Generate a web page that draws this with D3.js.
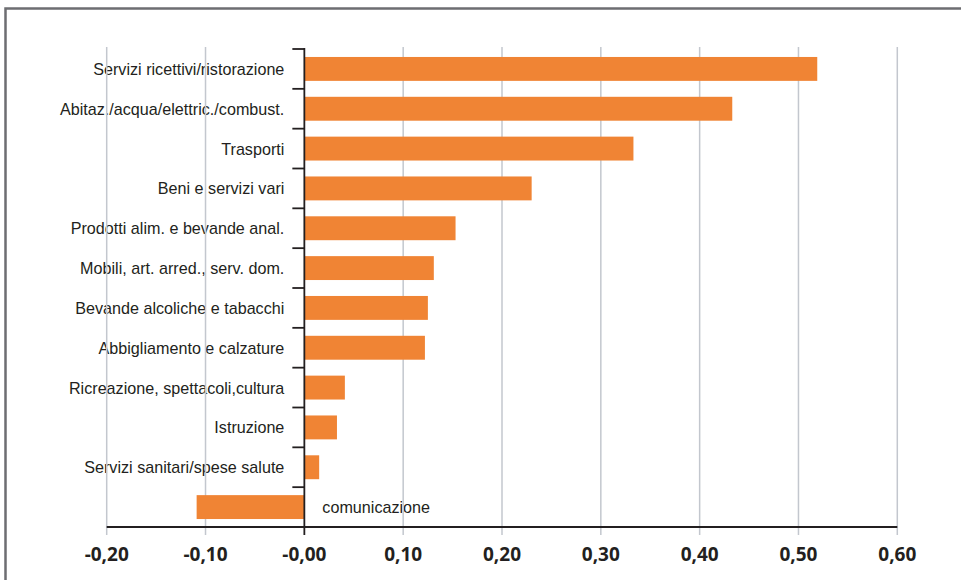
<!DOCTYPE html>
<html>
<head>
<meta charset="utf-8">
<script src="https://cdnjs.cloudflare.com/ajax/libs/d3/7.8.5/d3.min.js"></script>
<style>
  body { margin: 0; background: #fff; }
  .cat { font-family: "Liberation Sans", sans-serif; font-size: 17px; fill: #231f20; }
  .tick-lbl { font-family: "Open Sans", sans-serif; font-weight: 700; font-size: 19px; fill: #231f20; }
</style>
</head>
<body>
<div id="chart"></div>
<script>
// categories top to bottom
var categories = [
  "Servizi ricettivi/ristorazione",
  "Abitaz./acqua/elettric./combust.",
  "Trasporti",
  "Beni e servizi vari",
  "Prodotti alim. e bevande anal.",
  "Mobili, art. arred., serv. dom.",
  "Bevande alcoliche e tabacchi",
  "Abbigliamento e calzature",
  "Ricreazione, spettacoli,cultura",
  "Istruzione",
  "Servizi sanitari/spese salute",
  "comunicazione"
];
var values = [0.519, 0.433, 0.333, 0.230, 0.153, 0.131, 0.125, 0.122, 0.041, 0.033, 0.015, -0.109];
var xTicks = [-0.2, -0.1, 0, 0.1, 0.2, 0.3, 0.4, 0.5, 0.6];
var xTickLabels = ["-0,20", "-0,10", "-0,00", "0,10", "0,20", "0,30", "0,40", "0,50", "0,60"];

var svgWidth = 961;
var svgHeight = 580;

var svg = d3.select("#chart")
  .append("svg")
  .attr("width", svgWidth)
  .attr("height", svgHeight);

// frame (top + left only)
svg.append("path")
  .attr("d", "M5.5,581 L5.5,8.5 L961,8.5")
  .attr("fill", "none")
  .attr("stroke", "#6d6e72")
  .attr("stroke-width", 2.5);

var x = d3.scaleLinear()
  .domain([-0.2, 0.6])
  .range([106.7, 897.3]);

var y = d3.scaleBand()
  .domain(categories)
  .range([49, 527])
  .paddingInner(0.4)
  .paddingOuter(0.2);

var step = y.step();
var x0 = x(0);
var axisY = 527;

// category labels (font squeezed a bit to look like the condensed original)
svg.append("g")
  .selectAll("text")
  .data(categories)
  .enter()
  .append("text")
  .attr("class", "cat")
  .attr("transform", (d, i) => {
    var lx = values[i] < 0 ? x0 + 18 : x0 - 20;
    return `translate(${lx}, ${y(d) + y.bandwidth() / 2}) scale(0.95, 1)`;
  })
  .attr("dy", "0.35em")
  .attr("text-anchor", (d, i) => values[i] < 0 ? "start" : "end")
  .text(d => d);

// gridlines
svg.append("g")
  .selectAll("line")
  .data(xTicks.filter(d => d !== 0))
  .enter()
  .append("line")
  .attr("x1", d => x(d))
  .attr("x2", d => x(d))
  .attr("y1", 47)
  .attr("y2", 535)
  .attr("stroke", "#c3c7ce")
  .attr("stroke-width", 1.5);

// bars
svg.append("g")
  .selectAll("rect")
  .data(values)
  .enter()
  .append("rect")
  .attr("x", d => x(Math.min(0, d)))
  .attr("y", (d, i) => y(categories[i]))
  .attr("width", d => Math.abs(x(d) - x0))
  .attr("height", y.bandwidth())
  .attr("fill", "#f08434");

// x axis line
svg.append("line")
  .attr("x1", x(-0.2)).attr("x2", x(0.6))
  .attr("y1", axisY).attr("y2", axisY)
  .attr("stroke", "#231f20")
  .attr("stroke-width", 1.8);

// zero axis with category-boundary ticks
svg.append("line")
  .attr("x1", x0).attr("x2", x0)
  .attr("y1", 48).attr("y2", 535)
  .attr("stroke", "#231f20")
  .attr("stroke-width", 1.8);

svg.append("g")
  .selectAll("line")
  .data(categories)
  .enter()
  .append("line")
  .attr("x1", x0 - 12)
  .attr("x2", x0)
  .attr("y1", d => y(d) - step * 0.2)
  .attr("y2", d => y(d) - step * 0.2)
  .attr("stroke", "#231f20")
  .attr("stroke-width", 1.8);

// x tick labels
svg.append("g")
  .selectAll("text")
  .data(xTicks)
  .enter()
  .append("text")
  .attr("class", "tick-lbl")
  .attr("x", d => x(d))
  .attr("y", 561)
  .attr("text-anchor", "middle")
  .text((d, i) => xTickLabels[i]);
</script>
</body>
</html>
